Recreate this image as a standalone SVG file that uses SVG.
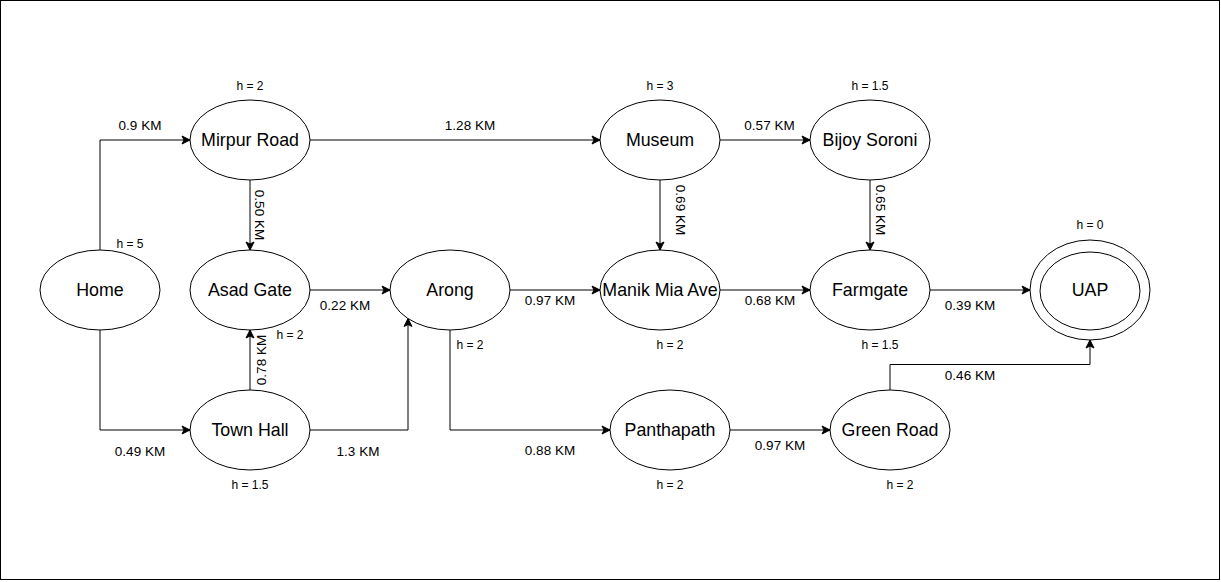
<svg xmlns="http://www.w3.org/2000/svg" width="1221" height="582" viewBox="0 0 1221 582">
<style>
.node ellipse{fill:#fff;stroke:#000;stroke-width:1}
.nl{font-family:"Liberation Sans",Arial,sans-serif;font-size:17.8px;fill:#000;text-anchor:middle;dominant-baseline:central}
.el{font-family:"Liberation Sans",Arial,sans-serif;font-size:13.5px;fill:#000;text-anchor:middle;dominant-baseline:central}
.hl{font-family:"Liberation Sans",Arial,sans-serif;font-size:12px;fill:#000;text-anchor:middle;dominant-baseline:central}
.edge{fill:none;stroke:#000;stroke-width:1;marker-end:url(#arr)}
</style>
<defs>
<marker id="arr" markerUnits="userSpaceOnUse" markerWidth="12" markerHeight="12" refX="9" refY="5" orient="auto">
<path d="M1,1 L9,5 L1,9 L3,5 Z" fill="#000" stroke="#000" stroke-width="1"/>
</marker>
</defs>
<rect x="0.5" y="0.5" width="1219" height="579" fill="#fff" stroke="#000" stroke-width="1"/>
<g id="connectors">
<path class="edge" d="M100,250 V140 H190"/>
<path class="edge" d="M100,330 V430 H190"/>
<path class="edge" d="M310,140 H600"/>
<path class="edge" d="M250,180 V250"/>
<path class="edge" d="M250,390 V330"/>
<path class="edge" d="M310,290 H390"/>
<path class="edge" d="M310,430 H408 V318.5"/>
<path class="edge" d="M510,290 H600"/>
<path class="edge" d="M450,330 V430 H610"/>
<path class="edge" d="M720,140 H810"/>
<path class="edge" d="M660,180 V250"/>
<path class="edge" d="M870,180 V250"/>
<path class="edge" d="M720,290 H810"/>
<path class="edge" d="M930,290 H1030"/>
<path class="edge" d="M730,430 H830"/>
<path class="edge" d="M890,390 V364.5 H1090 V340"/>
<text class="el" x="140" y="125.5">0.9 KM</text>
<text class="el" x="140" y="451">0.49 KM</text>
<text class="el" x="470" y="125.5">1.28 KM</text>
<text class="el" transform="translate(259.5,215) rotate(90)">0.50 KM</text>
<text class="el" transform="translate(261,360) rotate(-90)">0.78 KM</text>
<text class="el" x="345" y="305.5">0.22 KM</text>
<text class="el" x="358" y="451">1.3 KM</text>
<text class="el" x="550" y="300.5">0.97 KM</text>
<text class="el" x="550" y="450.5">0.88 KM</text>
<text class="el" x="769.5" y="125">0.57 KM</text>
<text class="el" transform="translate(680.5,210) rotate(90)">0.69 KM</text>
<text class="el" transform="translate(880.5,210) rotate(90)">0.65 KM</text>
<text class="el" x="770" y="300.5">0.68 KM</text>
<text class="el" x="970" y="305">0.39 KM</text>
<text class="el" x="780" y="445">0.97 KM</text>
<text class="el" x="970" y="375">0.46 KM</text>
</g>
<g id="home" class="node"><ellipse cx="100" cy="290" rx="60" ry="40"/><text class="nl" x="100" y="290">Home</text><text class="hl" x="130" y="244">h = 5</text></g>
<g id="mirpur-road" class="node"><ellipse cx="250" cy="140" rx="60" ry="40"/><text class="nl" x="250" y="140">Mirpur Road</text><text class="hl" x="250" y="85.5">h = 2</text></g>
<g id="asad-gate" class="node"><ellipse cx="250" cy="290" rx="60" ry="40"/><text class="nl" x="250" y="290">Asad Gate</text><text class="hl" x="290" y="335">h = 2</text></g>
<g id="town-hall" class="node"><ellipse cx="250" cy="430" rx="60" ry="40"/><text class="nl" x="250" y="430">Town Hall</text><text class="hl" x="250" y="485">h = 1.5</text></g>
<g id="arong" class="node"><ellipse cx="450" cy="290" rx="60" ry="40"/><text class="nl" x="450" y="290">Arong</text><text class="hl" x="470" y="345">h = 2</text></g>
<g id="museum" class="node"><ellipse cx="660" cy="140" rx="60" ry="40"/><text class="nl" x="660" y="140">Museum</text><text class="hl" x="660" y="85.5">h = 3</text></g>
<g id="manik-mia-ave" class="node"><ellipse cx="660" cy="290" rx="60" ry="40"/><text class="nl" x="660" y="290">Manik Mia Ave</text><text class="hl" x="670" y="345">h = 2</text></g>
<g id="panthapath" class="node"><ellipse cx="670" cy="430" rx="60" ry="40"/><text class="nl" x="670" y="430">Panthapath</text><text class="hl" x="670" y="485">h = 2</text></g>
<g id="bijoy-soroni" class="node"><ellipse cx="870" cy="140" rx="60" ry="40"/><text class="nl" x="870" y="140">Bijoy Soroni</text><text class="hl" x="870" y="85.5">h = 1.5</text></g>
<g id="farmgate" class="node"><ellipse cx="870" cy="290" rx="60" ry="40"/><text class="nl" x="870" y="290">Farmgate</text><text class="hl" x="880" y="345">h = 1.5</text></g>
<g id="green-road" class="node"><ellipse cx="890" cy="430" rx="60" ry="40"/><text class="nl" x="890" y="430">Green Road</text><text class="hl" x="900" y="485">h = 2</text></g>
<g id="uap" class="node"><ellipse cx="1090" cy="290" rx="60" ry="50"/><ellipse cx="1090" cy="291" rx="50" ry="39"/><text class="nl" x="1090" y="290">UAP</text><text class="hl" x="1090" y="224.5">h = 0</text></g>
</svg>
